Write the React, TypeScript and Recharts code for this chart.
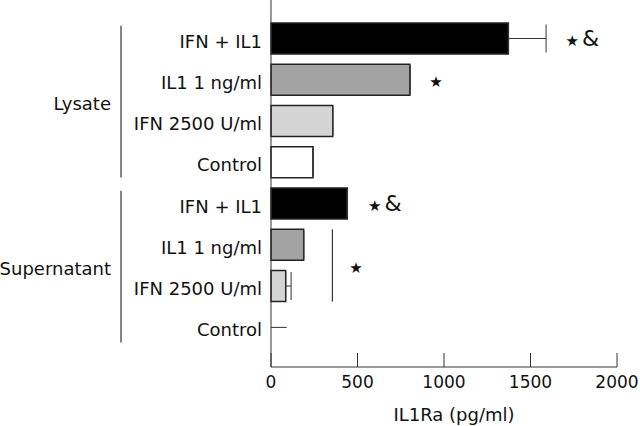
import { Bar, BarChart, Cell, ErrorBar, ReferenceDot, ReferenceLine, XAxis, YAxis } from "recharts"

const ids = ["lys-both", "lys-il1", "lys-ifn", "lys-ctrl", "sup-both", "sup-il1", "sup-ifn", "sup-ctrl"]
const treatments = ["IFN + IL1", "IL1 1 ng/ml", "IFN 2500 U/ml", "Control", "IFN + IL1", "IL1 1 ng/ml", "IFN 2500 U/ml", "Control"]
const groups = ["Lysate", "Lysate", "Lysate", "Lysate", "Supernatant", "Supernatant", "Supernatant", "Supernatant"]
const il1ra = [1372, 803, 357, 243, 441, 189, 85, 0]
const errCapped = [218, 0, 0, 0, 0, 0, 31, 0]
const errOpen = [0, 0, 0, 0, 0, 0, 0, 91]
const fills = ["#000000", "#a3a3a3", "#d4d4d4", "#ffffff", "#000000", "#a3a3a3", "#d4d4d4", "#ffffff"]
const xTicks = [0, 500, 1000, 1500, 2000]

const W = 640
const H = 426
const X_AXIS_H = 59
const PAD_TOP = 18
const PAD_BOTTOM = 19
const BAND = (H - X_AXIS_H - PAD_TOP - PAD_BOTTOM) / ids.length

const data = ids.map((id, i) => ({
  id,
  value: il1ra[i],
  errCapped: [0, errCapped[i]],
}))

const FONT = "'DejaVu Sans', sans-serif"
const INK = "#111"

function TreatmentTick(props: any) {
  const { x, y, payload } = props
  const i = ids.indexOf(payload.value)
  const first = i === 0 || groups[i] !== groups[i - 1]
  const n = groups.filter((g) => g === groups[i]).length
  return (
    <g>
      <text x={x} y={y} dy={9} textAnchor="end" fontSize={18} fill={INK} fontFamily={FONT}>
        {treatments[i]}
      </text>
      {first && (
        <line x1={x - 141} x2={x - 141} y1={y - 13} y2={y + (n - 1) * BAND + 15} stroke="#333" strokeWidth={1.2} />
      )}
      {first && (
        <text x={x - 151} y={y + ((n - 1) / 2) * BAND} dy={9} textAnchor="end" fontSize={18} fill={INK} fontFamily={FONT}>
          {groups[i]}
        </text>
      )}
    </g>
  )
}

function Mark({ cx, cy, amp, shift = 0 }: any) {
  return (
    <text x={cx} y={cy + shift} dy={7} textAnchor="middle" fill={INK} fontFamily={FONT}>
      <tspan fontSize={15}>★</tspan>
      {amp && <tspan fontSize={22} dx={3}>&amp;</tspan>}
    </text>
  )
}

export default function App() {
  return (
    <div style={{ position: "absolute", left: 0, top: 0, width: W, height: H, background: "#fff", fontFamily: FONT }}>
      <BarChart width={W} height={H} data={data} layout="vertical" margin={{ top: 0, right: 23, left: 0, bottom: 0 }}>
        <XAxis
          type="number"
          domain={[0, 2000]}
          ticks={xTicks}
          height={X_AXIS_H}
          stroke="#333"
          tickSize={-14}
          tickMargin={23}
          tick={{ fill: INK, fontSize: 17, fontFamily: FONT }}
          label={{ value: "IL1Ra (pg/ml)", position: "insideBottom", offset: 5, dx: 10, fill: INK, fontSize: 18, fontFamily: FONT }}
        />
        <YAxis
          type="category"
          dataKey="id"
          width={271}
          stroke="#333"
          tickLine={false}
          tickSize={0}
          tickMargin={9}
          padding={{ top: PAD_TOP, bottom: PAD_BOTTOM }}
          tick={<TreatmentTick />}
          interval={0}
        />
        <Bar dataKey="value" barSize={31} isAnimationActive={false} stroke="#222" strokeWidth={1.5}>
          {data.map((d, i) => (
            <Cell key={d.id} fill={fills[i]} />
          ))}
          <ErrorBar dataKey="errCapped" direction="x" width={14} stroke="#333" strokeWidth={1} />
        </Bar>
        {ids.map((id, i) =>
          errOpen[i] > 0 ? (
            <ReferenceLine
              key={`open-${id}`}
              segment={[{ x: il1ra[i], y: id }, { x: il1ra[i] + errOpen[i], y: id }]}
              stroke="#333"
              strokeWidth={1}
            />
          ) : null
        )}
        <ReferenceLine
          segment={[{ x: 355, y: "sup-il1" }, { x: 355, y: "sup-ifn" }]}
          shape={(p: any) => (
            <line x1={p.x1} x2={p.x2} y1={p.y1 - 15.5} y2={p.y2 + 15.5} stroke="#333" strokeWidth={1.2} />
          )}
        />
        <ReferenceDot x={1800} y="lys-both" r={0} shape={(p: any) => <Mark {...p} amp />} />
        <ReferenceDot x={954} y="lys-il1" r={0} shape={(p: any) => <Mark {...p} />} />
        <ReferenceDot x={658} y="sup-both" r={0} shape={(p: any) => <Mark {...p} amp />} />
        <ReferenceDot x={491} y="sup-il1" r={0} shape={(p: any) => <Mark {...p} shift={BAND / 2} />} />
      </BarChart>
    </div>
  )
}
